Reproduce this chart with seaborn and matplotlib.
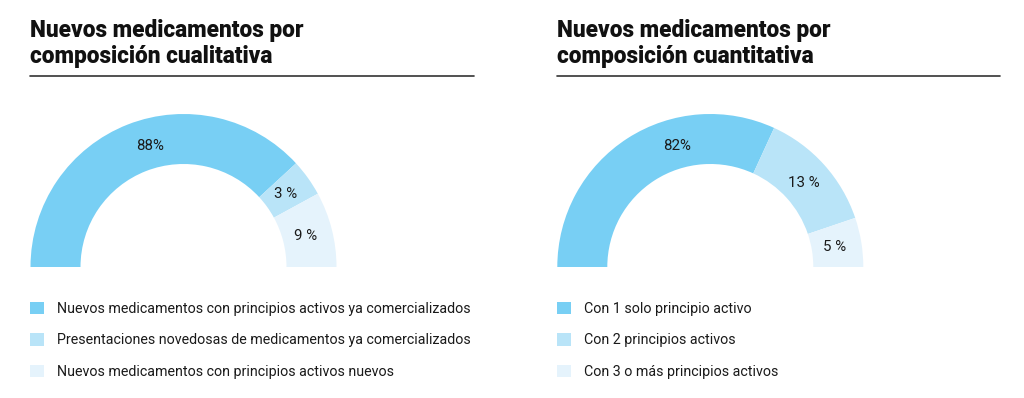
import numpy as np
import pandas as pd
import seaborn as sns
import matplotlib
matplotlib.use("Agg")
import matplotlib.pyplot as plt
from matplotlib.patches import Patch
from matplotlib.lines import Line2D

# ---------------- data ----------------
left_title = "Nuevos medicamentos por\ncomposición cualitativa"
left_categories = [
    "Nuevos medicamentos con principios activos ya comercializados",
    "Presentaciones novedosas de medicamentos ya comercializados",
    "Nuevos medicamentos con principios activos nuevos",
]
left_labels = ["88%", "3 %", "9 %"]
left_arc_share = [76.3, 7.8, 15.9]   # arc share as drawn in the picture

right_title = "Nuevos medicamentos por\ncomposición cuantitativa"
right_categories = [
    "Con 1 solo principio activo",
    "Con 2 principios activos",
    "Con 3 o más principios activos",
]
right_labels = ["82%", "13 %", "5 %"]
right_arc_share = [63.7, 25.9, 10.4]

colors = ["#78CFF4", "#B9E4F8", "#E5F3FC"]

# ---------------- style ----------------
sns.set_theme(style="white")
plt.rcParams["font.family"] = ["Roboto", "DejaVu Sans"]
palette = sns.color_palette(colors)

W, H = 1024, 398
fig = plt.figure(figsize=(W / 100, H / 100), dpi=100)
fig.patch.set_facecolor("white")


def fx(px):
    return px / W


def fy(py):
    return 1 - py / H


def gauge(cx, cy, R, ring, shares, labels, cats, title, title_x, line_x1, legend_x,
          big_label_angle):
    ax = fig.add_axes([fx(cx - R), fy(cy), 2 * R / W, R / H])
    total = sum(shares)
    vals = list(shares) + [total]
    cols = list(palette) + [(1, 1, 1, 0)]
    wedges, _ = ax.pie(vals, colors=cols, startangle=180, counterclock=False,
                       radius=1.0, wedgeprops=dict(width=ring / R, linewidth=0))
    ax.set_xlim(-1, 1)
    ax.set_ylim(0, 1)
    ax.set_aspect("auto")
    ax.axis("off")
    cum = np.cumsum([0] + list(shares))
    for i, lab in enumerate(labels):
        mid = 180 - (cum[i] + cum[i + 1]) / 2 / total * 180
        if i == 0:
            mid = big_label_angle
        r = 0.82
        ax.text(r * np.cos(np.radians(mid)), r * np.sin(np.radians(mid)), lab,
                ha="center", va="center", fontsize=10.8, color="#1a1a1a")
    t1, t2 = title.split("\n")
    fig.text(fx(title_x), fy(37), t1, fontsize=16.3, fontweight="heavy",
             color="#111111", va="baseline", ha="left")
    fig.text(fx(title_x), fy(63), t2, fontsize=16.3, fontweight="heavy",
             color="#111111", va="baseline", ha="left")
    fig.add_artist(Line2D([fx(title_x), fx(line_x1)], [fy(76), fy(76)],
                          color="#333333", linewidth=1.2,
                          transform=fig.transFigure))
    handles = [Patch(facecolor=c, edgecolor="none") for c in palette]
    fig.legend(handles, cats, loc="upper left",
               bbox_to_anchor=(fx(legend_x), fy(302)),
               bbox_transform=fig.transFigure, frameon=False,
               fontsize=10.3, handlelength=0.95, handleheight=0.95,
               handletextpad=0.95, labelspacing=1.2, borderpad=0,
               borderaxespad=0, labelcolor="#1a1a1a")


gauge(183.5, 267, 153, 50, left_arc_share, left_labels, left_categories,
      left_title, 30, 474, 30, 105.6)
gauge(710.3, 267, 153, 50, right_arc_share, right_labels, right_categories,
      right_title, 557, 1000, 557, 105.5)

fig.savefig("out.png", dpi=100, facecolor="white")
